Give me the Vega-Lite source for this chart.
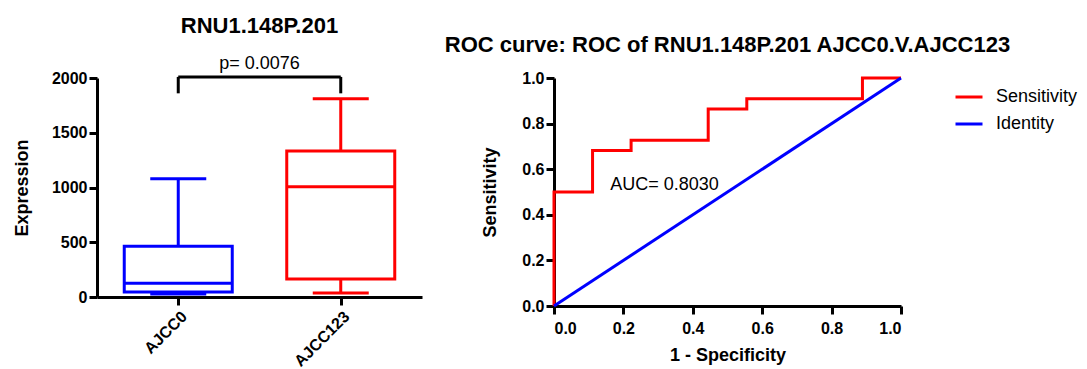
{
  "$schema": "https://vega.github.io/schema/vega-lite/v6.json",
  "background": "white",
  "padding": {"left": 13, "top": 14, "right": 5, "bottom": 0},
  "config": {
    "font": "Liberation Sans",
    "view": {"stroke": null},
    "axis": {
      "domainColor": "black", "domainWidth": 3,
      "tickColor": "black", "tickWidth": 3, "tickSize": 8,
      "labelFont": "Liberation Sans", "labelFontSize": 16, "labelFontWeight": "bold", "labelColor": "black", "labelPadding": 2,
      "titleFont": "Liberation Sans", "titleFontSize": 18, "titleFontWeight": "bold", "titleColor": "black",
      "grid": false
    },
    "tick": {"opacity": 1},
    "title": {"font": "Liberation Sans", "fontSize": 22, "fontWeight": "bold", "color": "black"}
  },
  "datasets": {
    "boxes": [
      {"group": "AJCC0", "lower": 27, "q1": 46, "median": 125, "q3": 463, "upper": 1080},
      {"group": "AJCC123", "lower": 37, "q1": 164, "median": 1007, "q3": 1333, "upper": 1811}
    ],
    "bracket": [
      {"from": "AJCC0", "to": "AJCC123", "top": 2010, "foot": 1860, "label": "p= 0.0076"}
    ],
    "roc": [
      {"series": "Sensitivity", "step": 0, "fpr": 0, "tpr": 0},
      {"series": "Sensitivity", "step": 1, "fpr": 0, "tpr": 0.5},
      {"series": "Sensitivity", "step": 2, "fpr": 0.1111, "tpr": 0.5},
      {"series": "Sensitivity", "step": 3, "fpr": 0.1111, "tpr": 0.6818},
      {"series": "Sensitivity", "step": 4, "fpr": 0.2222, "tpr": 0.6818},
      {"series": "Sensitivity", "step": 5, "fpr": 0.2222, "tpr": 0.7273},
      {"series": "Sensitivity", "step": 6, "fpr": 0.4444, "tpr": 0.7273},
      {"series": "Sensitivity", "step": 7, "fpr": 0.4444, "tpr": 0.8636},
      {"series": "Sensitivity", "step": 8, "fpr": 0.5556, "tpr": 0.8636},
      {"series": "Sensitivity", "step": 9, "fpr": 0.5556, "tpr": 0.9091},
      {"series": "Sensitivity", "step": 10, "fpr": 0.8889, "tpr": 0.9091},
      {"series": "Sensitivity", "step": 11, "fpr": 0.8889, "tpr": 1},
      {"series": "Sensitivity", "step": 12, "fpr": 1, "tpr": 1},
      {"series": "Identity", "step": 0, "fpr": 0, "tpr": 0},
      {"series": "Identity", "step": 1, "fpr": 1, "tpr": 1}
    ],
    "auc": [
      {"fpr": 0.162, "tpr": 0.51, "label": "AUC= 0.8030"}
    ]
  },
  "bounds": "flush",
  "spacing": 132,
  "resolve": {
    "scale": {"x": "independent", "y": "independent", "color": "independent"},
    "legend": {"color": "independent"}
  },
  "hconcat": [
    {
      "width": 325,
      "height": 219,
      "title": {"text": "RNU1.148P.201", "offset": 17},
      "layer": [
        {
          "data": {"name": "boxes"},
          "mark": {"type": "rule", "strokeWidth": 3},
          "encoding": {
            "x": {"field": "group", "type": "nominal",
                  "scale": {"type": "point", "padding": 0.5, "domain": ["AJCC0", "AJCC123"]},
                  "axis": {"title": null, "labelAngle": -45, "labelPadding": 3}},
            "y": {"field": "lower", "type": "quantitative", "title": "Expression",
                  "scale": {"domain": [0, 2000], "nice": false},
                  "axis": {"title": "Expression", "values": [0, 500, 1000, 1500, 2000], "format": "d", "titlePadding": 20}},
            "y2": {"field": "upper"},
            "color": {"field": "group", "type": "nominal",
                      "scale": {"domain": ["AJCC0", "AJCC123"], "range": ["#0000ff", "#ff0000"]},
                      "legend": null}
          }
        },
        {
          "data": {"name": "boxes"},
          "mark": {"type": "tick", "size": 56, "thickness": 3},
          "encoding": {
            "x": {"field": "group", "type": "nominal"},
            "y": {"field": "upper", "type": "quantitative", "title": "Expression"},
            "color": {"field": "group", "type": "nominal", "legend": null}
          }
        },
        {
          "data": {"name": "boxes"},
          "mark": {"type": "tick", "size": 56, "thickness": 3},
          "encoding": {
            "x": {"field": "group", "type": "nominal"},
            "y": {"field": "lower", "type": "quantitative", "title": "Expression"},
            "color": {"field": "group", "type": "nominal", "legend": null}
          }
        },
        {
          "data": {"name": "boxes"},
          "mark": {"type": "bar", "width": 108, "fill": "white", "strokeWidth": 3},
          "encoding": {
            "x": {"field": "group", "type": "nominal"},
            "y": {"field": "q1", "type": "quantitative", "title": "Expression"},
            "y2": {"field": "q3"},
            "stroke": {"field": "group", "type": "nominal",
                       "scale": {"domain": ["AJCC0", "AJCC123"], "range": ["#0000ff", "#ff0000"]},
                       "legend": null}
          }
        },
        {
          "data": {"name": "boxes"},
          "mark": {"type": "tick", "size": 108, "thickness": 3},
          "encoding": {
            "x": {"field": "group", "type": "nominal"},
            "y": {"field": "median", "type": "quantitative", "title": "Expression"},
            "color": {"field": "group", "type": "nominal", "legend": null}
          }
        },
        {
          "data": {"name": "bracket"},
          "mark": {"type": "rule", "strokeWidth": 3, "color": "black"},
          "encoding": {
            "x": {"field": "from", "type": "nominal"},
            "x2": {"field": "to"},
            "y": {"field": "top", "type": "quantitative", "title": "Expression"}
          }
        },
        {
          "data": {"name": "bracket"},
          "mark": {"type": "rule", "strokeWidth": 3, "color": "black"},
          "encoding": {
            "x": {"field": "from", "type": "nominal"},
            "y": {"field": "foot", "type": "quantitative", "title": "Expression"},
            "y2": {"field": "top"}
          }
        },
        {
          "data": {"name": "bracket"},
          "mark": {"type": "rule", "strokeWidth": 3, "color": "black"},
          "encoding": {
            "x": {"field": "to", "type": "nominal"},
            "y": {"field": "foot", "type": "quantitative", "title": "Expression"},
            "y2": {"field": "top"}
          }
        },
        {
          "data": {"name": "bracket"},
          "mark": {"type": "text", "fontSize": 18, "color": "black", "baseline": "alphabetic", "dy": -8},
          "encoding": {
            "y": {"field": "top", "type": "quantitative", "title": "Expression"},
            "text": {"field": "label"}
          }
        }
      ]
    },
    {
      "width": 347,
      "height": 228,
      "title": {"text": "ROC curve: ROC of RNU1.148P.201 AJCC0.V.AJCC123", "offset": 13},
      "layer": [
        {
          "data": {"name": "roc"},
          "mark": {"type": "line", "strokeWidth": 3},
          "encoding": {
            "x": {"field": "fpr", "type": "quantitative",
                  "scale": {"domain": [0, 1], "nice": false},
                  "axis": {"title": "1 - Specificity", "values": [0, 0.2, 0.4, 0.6, 0.8, 1], "format": ".1f", "labelPadding": 6, "titlePadding": 10}},
            "y": {"field": "tpr", "type": "quantitative",
                  "scale": {"domain": [0, 1], "nice": false},
                  "axis": {"title": "Sensitivity", "values": [0, 0.2, 0.4, 0.6, 0.8, 1], "format": ".1f", "titlePadding": 22}},
            "color": {"field": "series", "type": "nominal",
                      "scale": {"domain": ["Sensitivity", "Identity"], "range": ["#ff0000", "#0000ff"]},
                      "legend": {"title": null, "orient": "right", "offset": 43, "padding": 4,
                                 "symbolType": "stroke", "symbolStrokeWidth": 3, "symbolSize": 729,
                                 "labelFont": "Liberation Sans", "labelFontSize": 18, "labelFontWeight": "normal",
                                 "labelColor": "black", "labelOffset": 12, "rowPadding": 3}},
            "order": {"field": "step", "type": "quantitative"}
          }
        },
        {
          "data": {"name": "auc"},
          "mark": {"type": "text", "align": "left", "baseline": "alphabetic", "fontSize": 18, "color": "black"},
          "encoding": {
            "x": {"field": "fpr", "type": "quantitative"},
            "y": {"field": "tpr", "type": "quantitative"},
            "text": {"field": "label"}
          }
        }
      ]
    }
  ]
}
